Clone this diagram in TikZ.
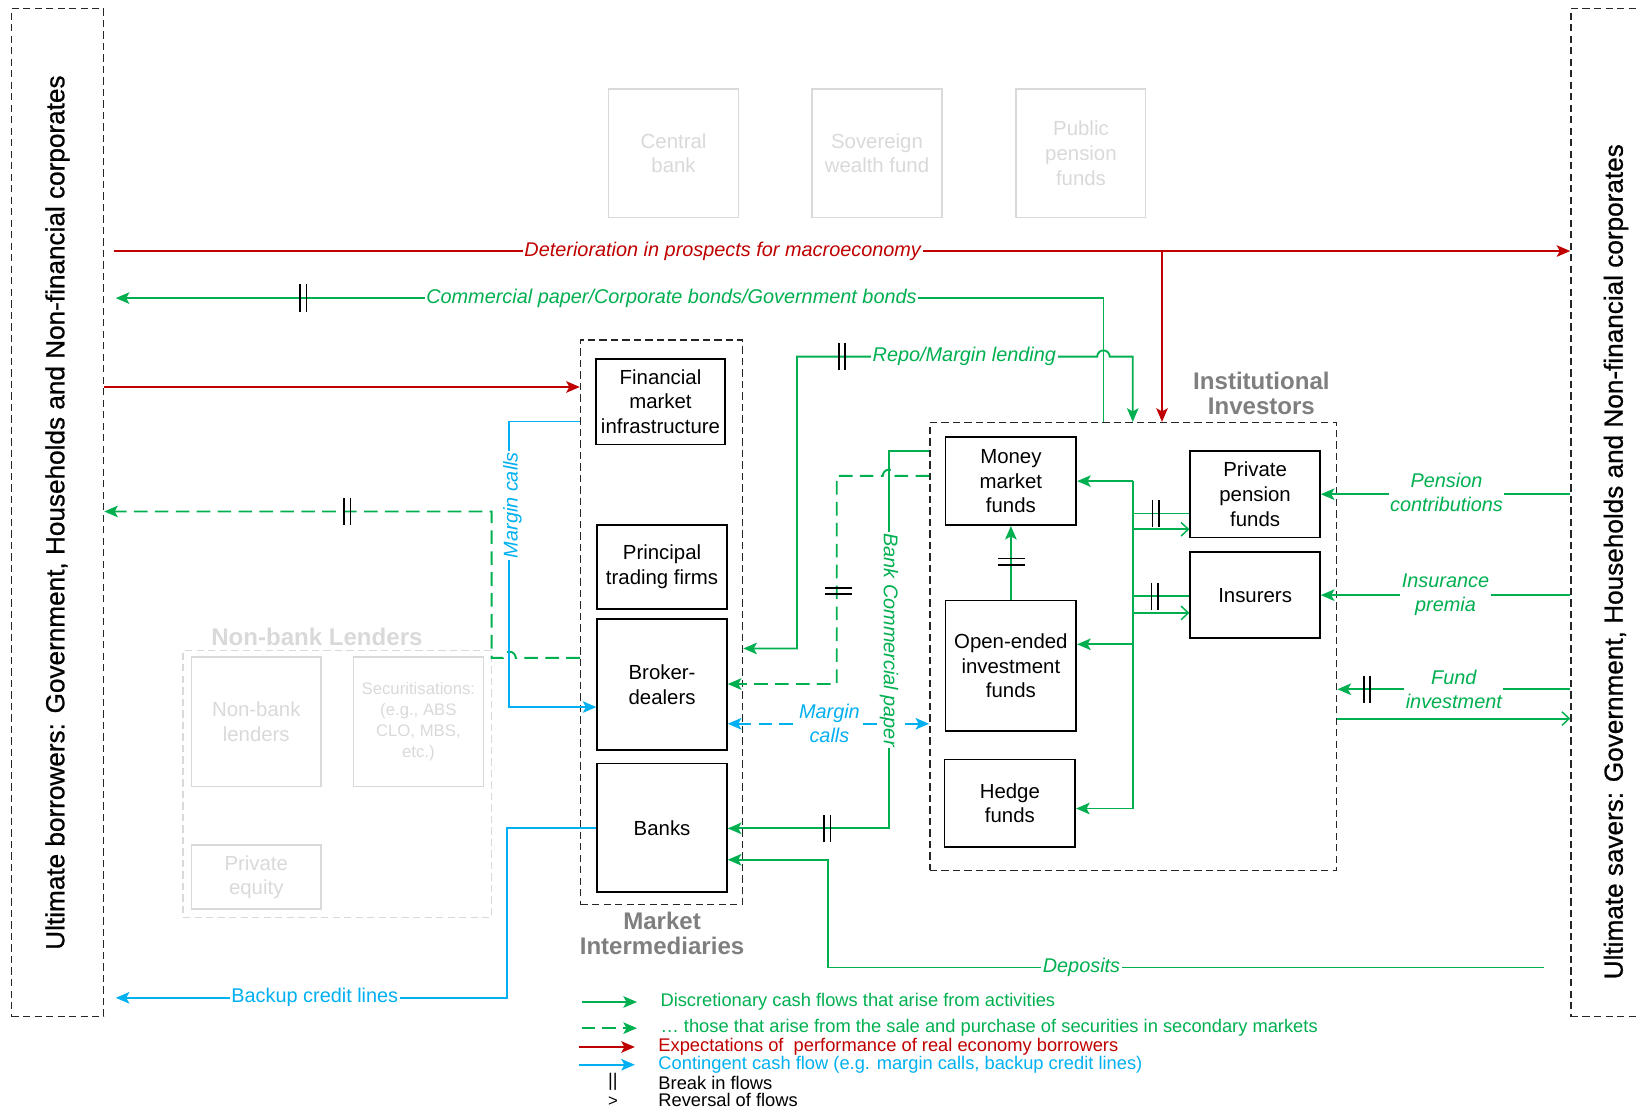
\documentclass[tikz,border=0pt]{standalone}
\usepackage{fontspec}
\setmainfont{Liberation Sans}
\newfontfamily\sidefam[FakeBold=0.8]{Liberation Sans}
\usetikzlibrary{arrows.meta,positioning,calc}
\definecolor{FlowGreen}{HTML}{00B050}
\definecolor{ExpectRed}{HTML}{C00000}
\definecolor{CallBlue}{HTML}{00B0F0}
\definecolor{GroupGray}{HTML}{7F7F7F}
\definecolor{GhostGray}{HTML}{D9D9D9}
\newcommand{\bxfont}{\fontsize{19.5}{23.5}\selectfont}
\newcommand{\lblfont}{\fontsize{19}{23}\selectfont\itshape}
\newcommand{\grpfont}{\fontsize{23}{24}\selectfont\bfseries}
\newcommand{\sidefont}{\sidefam\fontsize{25}{30}\selectfont}
\newcommand{\lgdfont}{\fontsize{17.5}{19}\selectfont}
\newcommand{\secfont}{\fontsize{16}{20}\selectfont}

\begin{document}
\begin{tikzpicture}[x=1pt,y=-1pt,
        >={Stealth[length=13pt,width=11pt,inset=3pt]},
        box/.style={draw,line width=1.6pt,align=center,inner sep=2pt,font=\bxfont},
        ghost/.style={draw=GhostGray,line width=1.3pt,text=GhostGray,
                      align=center,font=\bxfont},
        frame/.style={draw=black!85,line width=1.3pt,dash pattern=on 7pt off 4pt},
        ghostframe/.style={frame,draw=GhostGray},
        grplbl/.style={font=\grpfont,text=GroupGray,align=center},
        lbl/.style={font=\lblfont,fill=white,inner sep=1.5pt,align=center},
        cashflow/.style={FlowGreen,line width=1.8pt},
        secondary/.style={cashflow,dash pattern=on 13pt off 7pt},
        expect/.style={ExpectRed,line width=1.8pt},
        contingent/.style={CallBlue,line width=1.8pt},
        reversal/.style={-{Straight Barb[length=7pt,width=13pt,line width=1.4pt]}},
        brkv/.style={minimum width=10pt,minimum height=26pt,inner sep=0pt,
          path picture={\draw[line width=1.4pt]
            ([xshift=-3pt]path picture bounding box.north) -- ([xshift=-3pt]path picture bounding box.south)
            ([xshift=3pt]path picture bounding box.north) -- ([xshift=3pt]path picture bounding box.south);}},
        brkh/.style={minimum width=26pt,minimum height=10pt,inner sep=0pt,
          path picture={\draw[line width=1.4pt]
            ([yshift=-3pt]path picture bounding box.west) -- ([yshift=-3pt]path picture bounding box.east)
            ([yshift=3pt]path picture bounding box.west) -- ([yshift=3pt]path picture bounding box.east);}}]
  \useasboundingbox (0,0) rectangle (1568,1061);

  % ultimate borrowers and savers
  \node[frame,minimum width=88pt,minimum height=964pt] (borrowers) at (55,490) {};
  \node[rotate=90,font=\sidefont] (borrowtxt) at (borrowers.center)
    {Ultimate borrowers: Government, Households and Non-financial corporates};
  \node[frame,minimum width=88pt,minimum height=964pt] (savers) at (1546,490) {};
  \node[rotate=90,font=\sidefont] (savetxt) at (1545,537)
    {Ultimate savers: Government, Households and Non-financial corporates};

  % public sector (faded)
  \foreach \n/\x/\t in {cb/644/{Central\\bank},swf/838.5/{Sovereign\\wealth fund},
                        pubpen/1033.5/{Public\\pension\\funds}}{
    \node[ghost,minimum width=124pt,minimum height=123pt] (\n) at (\x,146.5) {\t};
  }

  % non-bank lenders (faded)
  \node[ghostframe,minimum width=295pt,minimum height=255pt] (nbl) at (322.5,749.5) {};
  \node[grplbl,text=GhostGray] (nbllbl) at (303,609) {Non-bank Lenders};
  \node[ghost,minimum width=124pt,minimum height=124pt] (nblbox) at (245,690) {Non-bank\\lenders};
  \node[ghost,minimum width=124pt,minimum height=124pt,font=\secfont] (sec) at (400,690)
    {Securitisations:\\(e.g., ABS\\CLO, MBS,\\etc.)};
  \node[ghost,minimum width=124pt,minimum height=61pt] (pe) at (245,838.5) {Private\\equity};

  % market intermediaries
  \node[frame,minimum width=155pt,minimum height=540pt] (mi) at (632.5,595) {};
  \node[grplbl] (milbl) at (633,892) {Market\\Intermediaries};
  \node[box,minimum width=123pt,minimum height=82pt] (fmi) at (631.5,384) {Financial\\market\\infrastructure};
  \node[box,minimum width=124pt,minimum height=80pt] (ptf) at (633,542) {Principal\\trading firms};
  \node[box,minimum width=124pt,minimum height=125pt] (bd) at (633,654.5) {Broker-\\dealers};
  \node[box,minimum width=124pt,minimum height=123pt] (banks) at (633,791.5) {Banks};

  % institutional investors
  \node[frame,minimum width=389pt,minimum height=428pt] (inst) at (1083.5,618) {};
  \node[grplbl] (instlbl) at (1206,376) {Institutional\\Investors};
  \node[box,minimum width=125pt,minimum height=84pt] (mmf) at (966.5,460) {Money\\market\\funds};
  \node[box,minimum width=125pt,minimum height=125pt] (oeif) at (966.5,636.5) {Open-ended\\investment\\funds};
  \node[box,minimum width=125pt,minimum height=84pt] (hf) at (965.5,768) {Hedge\\funds};
  \node[box,minimum width=124pt,minimum height=83pt] (ppf) at (1200,472.5) {Private\\pension\\funds};
  \node[box,minimum width=124pt,minimum height=82pt] (ins) at (1200,569) {Insurers};

  % expectations
  \coordinate (macrobranch) at (1111,240);
  \draw[expect,->] ($(borrowers.east|-0,240)+(9,0)$) -- (savers.west |- 0,240);
  \draw[expect,->] (macrobranch) -- (macrobranch |- inst.north);
  \draw[expect,->] (borrowers.east |- 0,370) -- (mi.west |- 0,370);

  % cash flows
  \draw[cashflow,->] (1055,285 |- inst.north) -- (1055,285) -- ($(borrowers.east|-0,285)+(11,0)$);
  \draw[cashflow,<->] (mi.east |- 0,620) -- (762,620) -- (762,341) -- (1049,341)
    arc[start angle=180,end angle=0,radius=6pt] -- (1083,341) -- (1083,341 |- inst.north);
  \draw[cashflow,->] (inst.west |- 0,431) -- (850,431) -- (850,792) -- (banks.east |- 0,792);
  \draw[cashflow,->] ($(savers.west|-0,925)+(-25,0)$) -- (792,925) -- (792,822) -- (banks.east |- 0,822);
  \draw[secondary,->] (mi.west |- 0,629) -- (493,629)
    arc[start angle=0,end angle=180,radius=6pt] -- (470,629) -- (470,489) -- (borrowers.east |- 0,489);
  \draw[secondary,->] (inst.west |- 0,455) -- (856,455)
    arc[start angle=0,end angle=180,radius=6pt] -- (800,455) -- (800,654) -- (bd.east |- 0,654);

  % contingent flows
  \draw[contingent,->] (mi.west |- 0,403) -- (487,403) -- (487,676) -- (bd.west |- 0,676);
  \draw[contingent,->] (banks.west |- 0,792) -- (485,792) -- (485,954) -- ($(borrowers.east|-0,954)+(11,0)$);
  \draw[contingent,dash pattern=on 13pt off 7pt,<->] (bd.east |- 0,692) -- (inst.west |- 0,692);

  % inside institutional investors
  \coordinate (trunktop) at (1083,460);
  \coordinate (trunkbot) at (1083,773);
  \draw[cashflow] (trunktop) -- (trunkbot);
  \foreach \n/\y in {mmf/460,oeif/616,hf/773}{
    \draw[cashflow,->] (trunktop |- 0,\y) -- (\n.east |- 0,\y);
  }
  \foreach \n/\a/\b in {ppf/491/506,ins/570/586}{
    \draw[cashflow] (\n.west |- 0,\a) -- (trunktop |- 0,\a);
    \draw[cashflow,reversal] (trunktop |- 0,\b) -- (\n.west |- 0,\b);
  }
  \draw[cashflow,->] (oeif.north) -- (mmf.south);

  % savers side
  \draw[cashflow,->] (savers.west |- ppf.east) -- (ppf.east);
  \draw[cashflow,->] (savers.west |- ins.east) -- (ins.east);
  \draw[cashflow,->] (savers.west |- 0,659) -- (inst.east |- 0,659);
  \draw[cashflow,reversal] (inst.east |- 0,687) -- (savers.west |- 0,687);

  % labels on lines
  \node[lbl,text=ExpectRed] (macrolbl) at (691,240) {Deterioration in prospects for macroeconomy};
  \node[lbl,text=FlowGreen] (cplbl) at (642,285) {Commercial paper/Corporate bonds/Government bonds};
  \node[lbl,text=FlowGreen] (repolbl) at (922,341) {Repo/Margin lending};
  \node[lbl,text=CallBlue,rotate=90] (mclbl) at (490,483) {Margin calls};
  \node[lbl,text=FlowGreen,rotate=-90] (bcplbl) at (850,612) {Bank Commercial paper};
  \node[lbl,text=CallBlue] (mc2lbl) at (793,692) {Margin\\calls};
  \node[lbl,text=FlowGreen] (deplbl) at (1034,925) {Deposits};
  \node[lbl,text=CallBlue,font=\lblfont\upshape] (backlbl) at (301,954) {Backup credit lines};
  \node[lbl,text=FlowGreen] (penlbl) at (1383,471) {Pension\\contributions};
  \node[lbl,text=FlowGreen] (inslbl) at (1382,569) {Insurance\\premia};
  \node[lbl,text=FlowGreen] (fundlbl) at (1390,659) {Fund\\investment};

  % breaks in flows
  \foreach \x/\y in {290/285,332/489,805/341,791/792,1105/491,1104/570,1307/659}{
    \node[brkv] (brk\x) at (\x,\y) {};
  }
  \node[brkh] (brkdash) at (802,565) {};
  \node[brkh] (brkfund) at (967,537) {};

  % legend
  \node[anchor=west,font=\lgdfont,text=FlowGreen] (lgdisc) at (628,958) {Discretionary cash flows that arise from activities};
  \node[anchor=west,font=\lgdfont,text=FlowGreen] (lgsec) at (628,983) {… those that arise from the sale and purchase of securities in secondary markets};
  \node[anchor=west,font=\lgdfont,text=ExpectRed] (lgexp) at (626,1001) {Expectations of \ performance of real economy borrowers};
  \node[anchor=west,font=\lgdfont,text=CallBlue] (lgcon) at (626,1018) {Contingent cash flow (e.g. margin calls, backup credit lines)};
  \node[anchor=west,font=\lgdfont] (lgbrk) at (626,1035) {Break in flows};
  \node[anchor=west,font=\lgdfont] (lgrev) at (626,1052) {Reversal of flows};
  \node[font=\lgdfont] (lgbrksym) at (586,1034) {||};
  \node[font=\secfont] (lgrevsym) at (586,1053) {>};
  \foreach \n/\st in {lgdisc/cashflow,lgsec/secondary,lgexp/expect,lgcon/contingent}{
    \draw[\st,->] ([xshift=-72pt]\n.west) -- ([xshift=-19pt]\n.west);
  }
\end{tikzpicture}
\end{document}
